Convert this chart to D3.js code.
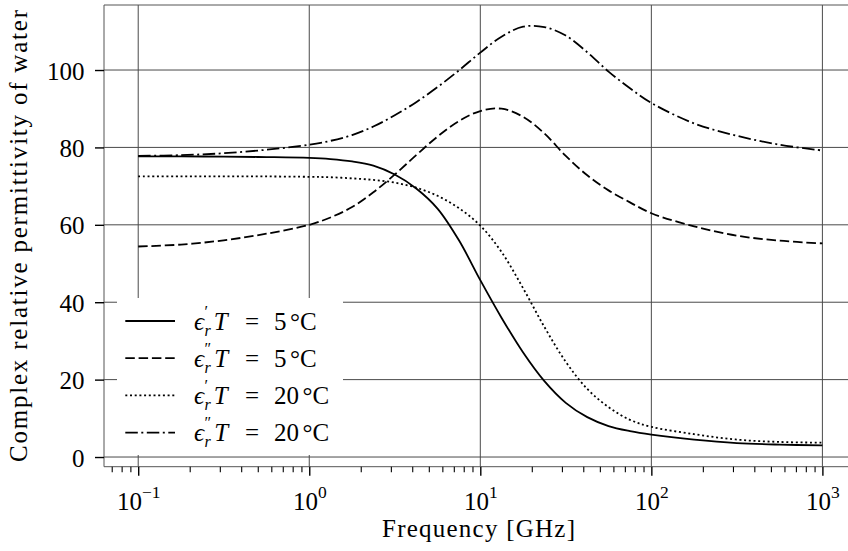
<!DOCTYPE html>
<html><head><meta charset="utf-8">
<script src="https://cdn.jsdelivr.net/npm/d3@7"></script>
<style>body{margin:0;background:#fff}svg{display:block}</style>
</head><body><div id="chart"></div>
<script>
// ---------- data ----------
const freqGHz = [0.1, 0.178, 0.316, 0.562, 1, 1.33, 1.78, 2.37, 3.16, 4.22, 5.62, 7.5, 10, 13.3, 17.8, 23.7, 31.6, 42.2, 56.2, 75, 100, 178, 316, 562, 1000];
const epsReal5  = [77.7, 77.7, 77.6, 77.5, 77.3, 77.0, 76.4, 75.3, 73.0, 69.4, 64.2, 56.0, 45.7, 36.0, 27.0, 19.6, 14.0, 10.3, 8.0, 6.7, 5.8, 4.5, 3.6, 3.2, 3.0];
const epsImag5  = [54.4, 54.9, 56.0, 57.7, 60.0, 61.9, 64.6, 68.4, 73.0, 78.0, 82.8, 86.8, 89.4, 90.0, 87.9, 83.6, 77.8, 72.8, 68.9, 65.8, 63.0, 59.6, 57.2, 55.9, 55.2];
const epsReal20 = [72.5, 72.5, 72.5, 72.5, 72.4, 72.3, 72.0, 71.6, 70.9, 69.6, 67.5, 64.3, 59.8, 53.0, 43.6, 33.6, 24.6, 17.6, 12.9, 9.6, 7.8, 5.9, 4.5, 3.9, 3.7];
const epsImag20 = [77.8, 78.0, 78.5, 79.4, 80.7, 81.7, 83.2, 85.4, 88.3, 91.7, 95.6, 99.9, 104.5, 108.6, 111.2, 111.1, 108.9, 104.6, 99.6, 95.3, 91.5, 86.2, 83.0, 80.7, 79.2];
const seriesPrime = ["′", "″", "′", "″"];
const seriesTemp  = ["5", "5", "20", "20"];
const xMajorTicks = [0.1, 1, 10, 100, 1000];
const xExponents  = ["−1", "0", "1", "2", "3"];
const yTicks = [0, 20, 40, 60, 80, 100];
const xLabel = "Frequency [GHz]";
const yLabel = "Complex relative permittivity of water";

// ---------- pick an installed serif font ----------
function pickSerif() {
  const cands = ["Liberation Serif", "DejaVu Serif", "Times New Roman", "Tinos", "Noto Serif", "FreeSerif", "Nimbus Roman", "Times"];
  const ctx = document.createElement("canvas").getContext("2d");
  const probe = "Frequency [GHz] mwil 0123";
  const base = {};
  ["monospace", "sans-serif"].forEach(b => { ctx.font = `25px ${b}`; base[b] = ctx.measureText(probe).width; });
  for (const c of cands) {
    let ok = false;
    for (const b of ["monospace", "sans-serif"]) {
      ctx.font = `25px "${c}", ${b}`;
      if (Math.abs(ctx.measureText(probe).width - base[b]) > 0.5) ok = true;
    }
    if (ok) return `"${c}", serif`;
  }
  return "serif";
}
const FONT = pickSerif();

// ---------- layout ----------
const W = 848, H = 551;
const plotL = 104, plotT = 5, plotB = 466.7, plotR = 856.6;
const dashes = ["none", "9.5,3.8", "2,2.7", "12.5,3.5,2,3.5"];

const svg = d3.select("#chart").append("svg").attr("width", W).attr("height", H)
  .style("font-family", FONT);

const x = d3.scaleLog().domain([Math.pow(10, -1.2), Math.pow(10, 3.2)]).range([plotL, plotR]);
const y = d3.scaleLinear().domain([-2.5, 116.8]).range([plotB, plotT]);

svg.append("defs").append("clipPath").attr("id", "clip")
  .append("rect").attr("x", plotL).attr("y", plotT).attr("width", W - plotL).attr("height", plotB - plotT);

// grid
const grid = svg.append("g").attr("clip-path", "url(#clip)").attr("stroke", "#4a4a4a").attr("stroke-width", 1);
grid.selectAll(".vg").data(xMajorTicks).join("line")
  .attr("x1", d => x(d)).attr("x2", d => x(d)).attr("y1", plotT).attr("y2", plotB);
grid.selectAll(".hg").data(yTicks).join("line")
  .attr("y1", d => y(d)).attr("y2", d => y(d)).attr("x1", plotL).attr("x2", W);

// curves
const allSeries = [epsReal5, epsImag5, epsReal20, epsImag20];
const line = d3.line().x(d => x(d[0])).y(d => y(d[1])).curve(d3.curveCatmullRom.alpha(0.5));
const curves = svg.append("g").attr("clip-path", "url(#clip)");
allSeries.forEach((vals, i) => {
  curves.append("path")
    .datum(freqGHz.map((f, k) => [f, vals[k]]))
    .attr("d", line)
    .attr("fill", "none").attr("stroke", "#000").attr("stroke-width", 1.8)
    .attr("stroke-dasharray", dashes[i]);
});

// spines
const sp = svg.append("g").attr("stroke", "#555").attr("stroke-width", 1);
sp.append("line").attr("x1", plotL).attr("x2", plotL).attr("y1", plotT).attr("y2", plotB);
sp.append("line").attr("x1", plotL).attr("x2", W).attr("y1", plotT).attr("y2", plotT);
sp.append("line").attr("x1", plotL).attr("x2", W).attr("y1", plotB).attr("y2", plotB);

// x axis (major ticks with labels)
const xAxis = svg.append("g").attr("transform", `translate(0,${plotB})`)
  .call(d3.axisBottom(x).tickValues(xMajorTicks).tickSize(9).tickFormat(""));
xAxis.attr("font-family", null);
xAxis.select(".domain").remove();
xAxis.selectAll(".tick line").attr("stroke", "#000").attr("stroke-width", 1.4);
xAxis.selectAll(".tick text").each(function (d, i) {
  const t = d3.select(this).attr("y", 43.3).attr("dy", null)
    .attr("font-size", 25).attr("fill", "#000").attr("text-anchor", "middle").style("font-family", FONT);
  t.text(null);
  t.append("tspan").text("10");
  t.append("tspan").attr("dy", -11.5).attr("font-size", 17.5).text(xExponents[i]);
});
// minor ticks
const minor = [];
for (let e = -2; e <= 3; e++) for (let m = 2; m <= 9; m++) {
  const v = m * Math.pow(10, e);
  if (x(v) >= plotL && x(v) <= W) minor.push(v);
}
const xMinor = svg.append("g").attr("transform", `translate(0,${plotB})`)
  .call(d3.axisBottom(x).tickValues(minor).tickSize(5.5).tickFormat(""));
xMinor.select(".domain").remove();
xMinor.selectAll(".tick line").attr("stroke", "#000").attr("stroke-width", 1.1);

// y axis
const yAxis = svg.append("g").attr("transform", `translate(${plotL},0)`)
  .call(d3.axisLeft(y).tickValues(yTicks).tickSize(9).tickPadding(11).tickFormat(d3.format("d")));
yAxis.attr("font-family", null);
yAxis.select(".domain").remove();
yAxis.selectAll(".tick line").attr("stroke", "#000").attr("stroke-width", 1.4);
yAxis.selectAll(".tick text").attr("font-size", 25).attr("fill", "#000")
  .attr("dy", 9).attr("x", -19.5).style("font-family", FONT);

// axis labels
svg.append("text").attr("x", 478.5).attr("y", 537).attr("text-anchor", "middle").style("font-family", FONT)
  .attr("font-size", 25).attr("textLength", 193).attr("lengthAdjust", "spacing").text(xLabel);
svg.append("text").attr("transform", "translate(27,236) rotate(-90)").attr("text-anchor", "middle").style("font-family", FONT)
  .attr("font-size", 25).attr("textLength", 452).attr("lengthAdjust", "spacing").text(yLabel);

// legend
const lg = svg.append("g").style("font-family", FONT);
lg.append("rect").attr("x", 117).attr("y", 298).attr("width", 226).attr("height", 157)
  .attr("rx", 3).attr("fill", "#fff");
seriesPrime.forEach((pr, i) => {
  const ly = 321 + i * 37.2;
  lg.append("line").attr("x1", 125.3).attr("x2", 175).attr("y1", ly).attr("y2", ly)
    .attr("stroke", "#000").attr("stroke-width", 1.8).attr("stroke-dasharray", dashes[i]);
  const x0 = 194, base = ly + 8.5;
  const g = lg.append("g");
  const eps = g.append("text").attr("x", x0).attr("y", base).attr("font-size", 25)
    .attr("font-style", "italic").text("ϵ");
  const ew = eps.node().getComputedTextLength();
  const sup = g.append("text").attr("x", x0 + ew + 0.5).attr("y", base - 13).attr("font-size", 16).text(pr);
  const sub = g.append("text").attr("x", x0 + ew + 0.5).attr("y", base + 6).attr("font-size", 16)
    .attr("font-style", "italic").text("r");
  const after = Math.max(sup.node().getComputedTextLength(), sub.node().getComputedTextLength());
  const tx = Math.max(213, x0 + ew + 0.5 + after + 3);
  g.append("text").attr("x", tx).attr("y", base).attr("font-size", 25).attr("font-style", "italic").text("T");
  g.append("text").attr("x", 245).attr("y", base).attr("font-size", 25).text("=");
  const tt = g.append("text").attr("x", 274).attr("y", base).attr("font-size", 25).text(seriesTemp[i]);
  const tw = tt.node().getComputedTextLength();
  g.append("text").attr("x", 274 + tw + 3.5).attr("y", base).attr("font-size", 25).text("°C");
});
</script>
</body></html>
